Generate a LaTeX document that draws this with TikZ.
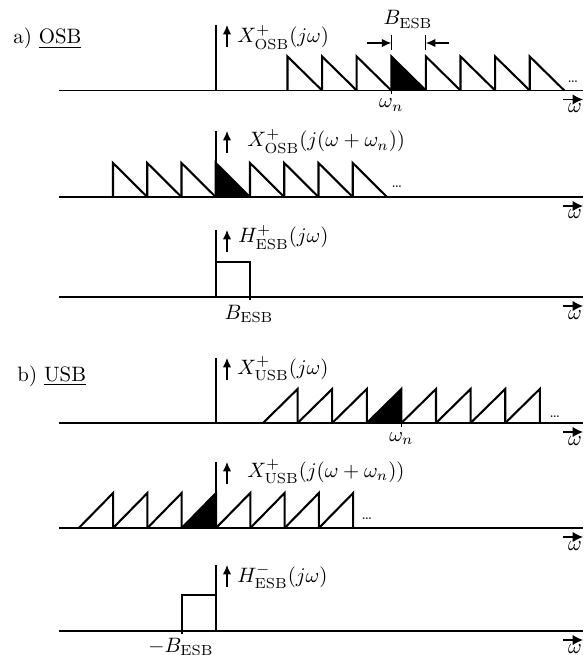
\documentclass[tikz,border=0pt]{standalone}
\usetikzlibrary{arrows.meta}
\begin{document}
\begin{tikzpicture}[x=0.48pt,y=-0.48pt,
  axis/.style={line width=0.6pt},
  vax/.style={line width=0.5pt},
  spec/.style={line width=1pt, line join=miter},
  uparr/.style={line width=0.6pt,-{Latex[length=4.5pt,width=4pt]}},
  omarr/.style={line width=0.6pt,-{Latex[length=5pt,width=5pt]}},
  lbl/.style={anchor=base west, inner sep=0pt},
  bl/.style={anchor=base, inner sep=0pt},
  dotsl/.style={anchor=base, inner sep=0pt, font=\scriptsize}]
\useasboundingbox (0,0) rectangle (583,655);

% fills first
\fill ({287.5+3*34.6},90.5) -- ++(0,-34) -- ++(34.6,34) -- cycle;
\fill (216,197) -- ++(0,-34) -- ++(34.25,34) -- cycle;
\fill ({263+3*34.6},423) -- ++(34.6,-34) -- ++(0,34) -- cycle;
\fill ({216-34.3},528) -- ++(34.3,-35) -- ++(0,35) -- cycle;

% axes
\foreach \ay/\vt/\n in {90.5/25/1, 197/131/2, 297/230/3, 423/358/4, 528/462/5, 631/565/6} {
  \coordinate (L\n) at (59,\ay);
  \coordinate (R\n) at (583,\ay);
  \draw[axis] (L\n) -- (R\n);
  \coordinate (O\n) at (216,\ay);
  \coordinate (T\n) at (216,\vt);
  \draw[vax] (O\n) -- (T\n);
  \coordinate (As\n) at (227,\vt+22);
  \coordinate (Ae\n) at (227,\vt);
  \draw[uparr] (As\n) -- (Ae\n);
  \coordinate (Ws\n) at (563,\ay+9);
  \coordinate (We\n) at (583,\ay+9);
  \draw[omarr] (Ws\n) -- (We\n);
  \node[bl] (w\n) at (575,\ay+22) {$\omega$};
}

% panel a1
\node[lbl] (ta) at (13,44) {a) \underline{OSB}};
\node[lbl] (la1) at (237,43) {$X^+_{\mathrm{OSB}}(j\omega)$};
\foreach \i in {0,...,7} \draw[spec] ({287.5+\i*34.6},90.5) -- ++(0,-34) -- ++(34.6,34);
\node[dotsl] (d1) at (573,83) {\dots};
\coordinate (wn1) at (391.3,90.5);
\draw[axis] (wn1) -- ++(0,4);
\node[bl] (lwn1) at (391.3,108) {$\omega_n$};
\coordinate (b1t) at (391.3,35); \coordinate (b1b) at (391.3,50);
\coordinate (b2t) at (425.9,35); \coordinate (b2b) at (425.9,50);
\draw[vax] (b1t) -- (b1b);
\draw[vax] (b2t) -- (b2b);
\coordinate (bl0) at (367,43); \coordinate (bl1) at (391.3,43);
\coordinate (br0) at (449,43); \coordinate (br1) at (425.9,43);
\draw[uparr] (bl0) -- (bl1);
\draw[uparr] (br0) -- (br1);
\node[bl] (lb) at (408,25) {$B_{\mathrm{ESB}}$};

% panel a2
\node[lbl] (la2) at (247,147) {$X^+_{\mathrm{OSB}}(j(\omega+\omega_n))$};
\foreach \i in {0,...,7} \draw[spec] ({113+\i*34.25},197) -- ++(0,-34) -- ++(34.25,34);
\node[dotsl] (d2) at (397,188) {\dots};

% panel a3
\node[lbl] (la3) at (238,243) {$H^+_{\mathrm{ESB}}(j\omega)$};
\draw[spec] (216,262) -- (250,262) -- (250,299.5);
\node[bl] (lb3) at (249,319) {$B_{\mathrm{ESB}}$};

% panel b1
\node[lbl] (tb) at (17,381) {b) \underline{USB}};
\node[lbl] (lb1) at (237,374) {$X^+_{\mathrm{USB}}(j\omega)$};
\foreach \i in {0,...,7} \draw[spec] ({263+\i*34.6},423) -- ++(34.6,-34) -- ++(0,34);
\node[dotsl] (d4) at (555,417) {\dots};
\coordinate (wn4) at (401.4,423);
\draw[axis] (wn4) -- ++(0,4);
\node[bl] (lwn4) at (401.4,441) {$\omega_n$};

% panel b2
\node[lbl] (lb2) at (247,477) {$X^+_{\mathrm{USB}}(j(\omega+\omega_n))$};
\foreach \i in {0,...,7} \draw[spec] ({216-4*34.3+\i*34.3},528) -- ++(34.3,-35) -- ++(0,35);
\node[dotsl] (d5) at (367,519) {\dots};

% panel b3
\node[lbl] (lb6) at (237,582) {$H^-_{\mathrm{ESB}}(j\omega)$};
\draw[spec] (182,633.5) -- (182,595) -- (216,595);
\node[bl] (lbm) at (181,652) {$-B_{\mathrm{ESB}}$};
\end{tikzpicture}
\end{document}
